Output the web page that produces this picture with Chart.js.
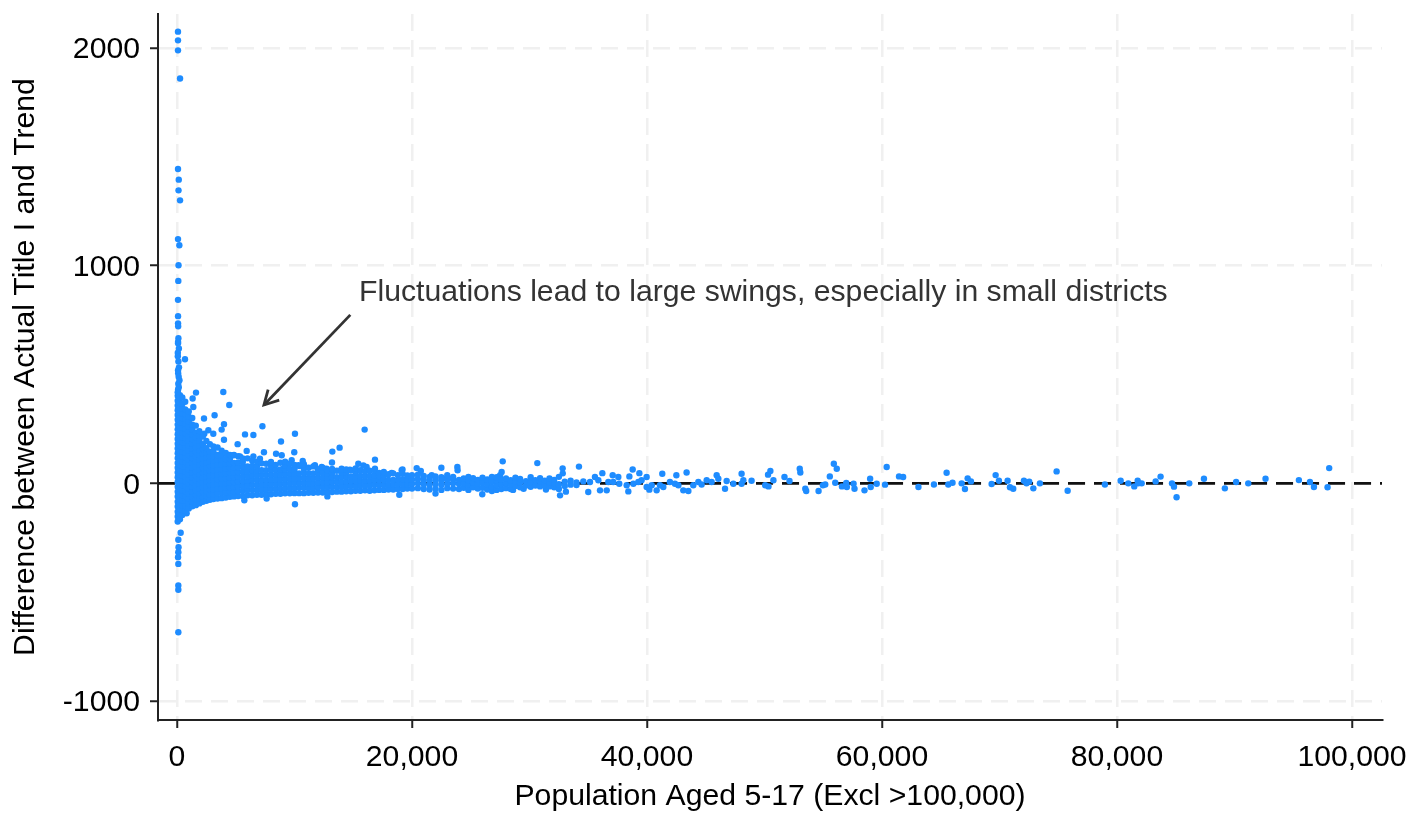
<!DOCTYPE html>
<html><head><meta charset="utf-8">
<style>html,body{margin:0;padding:0;background:#fff}canvas{display:block}</style>
<script src="https://cdn.jsdelivr.net/npm/chart.js@4/dist/chart.umd.js"></script>
</head><body><canvas id="c" width="1422" height="813"></canvas>
<script>
const xTicks=[0,20000,40000,60000,80000,100000];
const yTicks=[-1000,0,1000,2000];
const xTitle="Population Aged 5-17 (Excl >100,000)";
const yTitle="Difference between Actual Title I and Trend";
const noteText="Fluctuations lead to large swings, especially in small districts";
const noteAnchor=[15490,874];
const arrowFrom=[14750,774];
const arrowTo=[7400,360];
const zeroLine=[[-1617,0],[102553,0]];
// Thin spike at very small populations
const spike=[[85,2075],[85,2035],[85,1989],[260,1860],[85,1444],[150,1395],[130,1346],[260,1300],[85,1122],[200,1094],[130,1002],[110,930],[85,843],[90,768],[90,735],[100,722],[120,667],[90,650],[90,644],[160,620],[70,600],[70,584],[120,560],[680,570],[170,533],[90,520],[100,506],[140,490],[210,474],[110,458],[150,442],[90,430],[312,-227],[113,-259],[130,-293],[113,-316],[90,-339],[113,-370],[113,-469],[113,-489],[113,-684],[820,-137],[1670,-93]];
// Points standing clear of the main band
const outliers=[[1618,417],[1332,390],[3940,420],[4450,360],[1390,351],[2300,298],[3200,313],[4000,272],[3800,247],[2670,244],[2325,228],[3090,228],[5790,225],[6500,222],[7270,262],[10040,228],[8850,192],[5160,180],[4000,200],[15970,247],[13840,164],[13220,146],[13190,96],[16850,109],[7400,143],[9980,143],[8430,136],[8910,129],[5930,149],[10700,103],[15430,90],[15860,82],[14010,67],[20400,70],[22500,72],[19190,64],[20750,57],[16850,67],[5730,-78],[7630,-70],[10040,-96],[12800,-60],[18920,-52],[22000,-47],
[23860,75],[23880,60],[27720,101],[30664,93],[32820,69],[32830,46],[34210,77],[27630,52],[27500,38],[25980,-50],[32600,-55],[26800,-35],[28600,-30],[31400,-28],[29500,-25],[33100,-38]];
// Knobs along the upper edge of the band
const edgeBumps=[[4790,129],[5360,124],[6500,124],[7060,113],[8060,83],[9050,67],[9760,106],[10330,83],[11740,83],[12310,75],[12730,67],[14720,63],[16140,75],[17560,44],[18270,48],[19120,60],[21680,37],[22950,22]];
// Points along the right-hand tail
const tail=[[34580,9],[35000,-40],[35150,6],[35570,29],[35860,14],[36000,-32],[36200,47],[36570,-32],[36710,6],[37080,37],[37130,6],[37560,29],[37640,-2],[38270,-9],[38410,-37],[38500,32],[38780,64],[38840,-2],[39260,6],[39350,47],[39540,14],[39970,29],[39970,-17],[40200,-29],[40400,-9],[40820,-32],[41100,-9],[41300,44],[41390,-17],[41950,6],[42380,-2],[42500,37],[42670,-9],[43090,-32],[43370,50],[43520,-35],[43940,-9],[44370,6],[44650,-5],[45080,14],[45500,6],[45930,37],[46070,21],[46640,-25],[46780,11],[47350,-2],[48050,44],[48050,-2],[48200,14],[48900,12],[50060,-9],[50300,40],[50340,-14],[50500,57],[50760,14],[51700,29],[52130,11],[53000,67],[53050,50],[53470,-25],[53550,-35],[54600,-35],[54970,-9],[55170,-5],[55560,32],[55900,90],[56020,3],[56150,67],[56590,-14],[56960,2],[57010,-17],[57580,-2],[57660,-25],[58510,-32],[58990,21],[59040,-17],[59550,-2],[60260,-6],[60400,75],[61450,32],[61800,29],[63100,-17],[64420,-5],[65500,49],[65640,-5],[66000,3],[66780,0],[67060,-26],[67290,23],[67570,9],[69330,-3],[69670,38],[69950,12],[70690,12],[70890,-18],[71170,-25],[72080,12],[72300,0],[72530,8],[72880,-23],[73440,0],[74860,55],[75800,-34],[78970,-5],[80310,12],[80960,0],[81470,-14],[81760,12],[81810,0],[82100,0],[83290,9],[83710,31],[84680,0],[84850,-15],[85070,-64],[86150,0],[87400,21],[89180,-23],[90140,6],[91170,0],[92640,21],[95480,15],[96420,6],[96760,-17],[97920,-18],[98060,70]];
// Main dense band, one list per population column: [population, differences...]
const band=[
[60,-175,-152,-130,-106,-84,-60,-38,-16,6,28,50,72,94,116,138,160,182,204,226,248,270,292,314,336,358,380,402,418],
[250,-165,-140,-118,-96,-72,-50,-26,-4,18,40,62,84,106,128,150,172,194,216,238,260,282,304,326,348,370,392,405],
[450,-145,-122,-100,-78,-54,-32,-8,14,36,58,80,102,124,146,168,190,212,234,256,278,300,322,344,366,395],
[700,-125,-104,-80,-58,-36,-12,10,32,54,76,98,120,142,164,186,208,230,252,274,296,318,340,375],
[1000,-115,-92,-70,-46,-24,-2,20,42,64,86,108,130,152,174,196,218,240,262,284,306,330],
[1300,-105,-84,-60,-38,-16,6,28,50,72,94,116,138,160,182,204,226,248,270,300],
[1600,-100,-76,-54,-32,-10,12,34,56,78,100,122,144,166,188,210,232,265],
[1900,-92,-68,-46,-24,-2,20,42,64,86,108,130,152,174,196,218,240],
[2200,-85,-62,-40,-18,4,26,48,70,92,114,136,158,180,215],
[2500,-80,-58,-36,-14,8,30,52,74,96,118,140,162,195],
[2800,-75,-52,-30,-8,14,36,58,80,102,124,146,180],
[3100,-72,-50,-28,-6,16,38,60,82,104,126,148,170],
[3450,-70,-46,-24,-2,20,42,64,86,108,130,165],
[3800,-68,-44,-22,0,22,44,66,88,110,130,150],
[4150,-65,-42,-20,2,24,46,68,90,112,140],
[4500,-62,-40,-18,4,26,48,70,92,112,130],
[4850,-60,-38,-16,6,28,50,72,94,130],
[5200,-58,-36,-14,8,30,52,74,96,125],
[5600,-58,-34,-12,10,32,54,76,98,115],
[6000,-55,-32,-10,12,34,56,78,115],
[6400,-55,-30,-8,14,36,58,80,105],
[6800,-52,-30,-8,14,36,58,78,100],
[7200,-52,-28,-6,16,38,60,92],
[7600,-50,-28,-6,16,38,60,90],
[8000,-50,-26,-4,18,40,62,80,98],
[8400,-48,-26,-4,18,40,62,85],
[8800,-48,-24,-2,20,42,64,95],
[9200,-46,-24,-2,20,42,64,82,100],
[9600,-46,-22,0,22,44,66,90],
[10000,-45,-22,0,22,44,64,85],
[10400,-45,-20,2,24,46,80],
[10800,-45,-20,2,24,46,66,88],
[11200,-43,-20,2,24,46,72],
[11600,-43,-20,2,24,46,78],
[12000,-42,-18,4,26,48,65],
[12400,-42,-18,4,26,48,72],
[12800,-40,-18,4,26,44,60],
[13200,-40,-16,6,28,48,66],
[13600,-38,-16,6,28,58],
[14000,-38,-14,8,30,50,62],
[14400,-36,-14,8,30,50,64],
[14800,-36,-12,10,32,60],
[15200,-34,-12,10,32,50,68],
[15600,-34,-10,12,34,60],
[16000,-32,-10,12,34,55],
[16400,-34,-10,12,34,58],
[16800,-32,-8,14,36,60],
[17200,-30,-8,14,34,48],
[17600,-30,-8,14,34,52],
[18000,-28,-6,16,42],
[18400,-28,-6,16,46],
[18800,-26,-4,16,38],
[19200,-26,-4,18,44],
[19600,-24,-4,16,36],
[20000,-24,-2,18,38],
[20500,-22,0,20,40],
[21000,-26,-4,16,34],
[21500,-28,-6,14,30],
[22000,-24,-2,16,32],
[22500,-30,-6,14,28],
[23000,-22,-2,18,38],
[23500,-24,0,18,30],
[24000,-26,-2,16],
[24400,-20,2,22],
[24800,-30,-6,14,30],
[25200,-18,4,24],
[25600,-24,-2,16],
[26000,-20,4,26],
[26400,-28,-4,18],
[26800,-16,8,30],
[27200,-30,-8,14,28],
[27600,-26,-4,18],
[28000,-22,0,22],
[28400,-26,-4,14],
[28800,-12,8,26],
[29200,-18,4,20],
[29700,-10,10],
[30100,-16,6,28],
[30500,-10,14],
[30900,-14,8,24],
[31300,-8,12],
[31700,-14,6,22],
[32100,-18,2,16],
[32500,-26,-4,30],
[33000,-12,8],
[33500,-6,12],
[34000,-8,4]];
const pointSets=[spike,outliers,edgeBumps,tail];
const points=[];
pointSets.forEach(s=>s.forEach(p=>points.push({x:p[0],y:p[1]})));
band.forEach(col=>col.slice(1).forEach(v=>points.push({x:col[0],y:v})));

const annotate={id:'annotate',afterDatasetsDraw(ch){
  const g=ch.ctx,X=ch.scales.x,Y=ch.scales.y;
  g.save();
  const x1=X.getPixelForValue(arrowFrom[0]),y1=Y.getPixelForValue(arrowFrom[1]);
  const x2=X.getPixelForValue(arrowTo[0]),y2=Y.getPixelForValue(arrowTo[1]);
  g.strokeStyle='#333';g.lineWidth=2.8;g.lineCap='butt';
  g.beginPath();g.moveTo(x1,y1);g.lineTo(x2,y2);g.stroke();
  const a=Math.atan2(y1-y2,x1-x2),h=16,w=0.5;
  g.beginPath();
  g.moveTo(x2+h*Math.cos(a-w),y2+h*Math.sin(a-w));
  g.lineTo(x2,y2);
  g.lineTo(x2+h*Math.cos(a+w),y2+h*Math.sin(a+w));
  g.stroke();
  g.fillStyle='#333';g.font='30.2px "Liberation Sans"';g.textBaseline='middle';g.textAlign='left';
  g.fillText(noteText,X.getPixelForValue(noteAnchor[0]),Y.getPixelForValue(noteAnchor[1]));
  g.restore();
}};
const tickFont={family:'"Liberation Sans"',size:30.2};
const titleFont={family:'"Liberation Sans"',size:30.2};
function noPad(a){a.paddingTop=0;a.paddingBottom=0;a.paddingLeft=0;a.paddingRight=0;}
new Chart(document.getElementById('c'),{
  type:'scatter',
  data:{datasets:[
    {type:'scatter',data:points,backgroundColor:'#1E8CFF',borderWidth:0,pointRadius:3.2,pointHoverRadius:3.2,order:1},
    {type:'line',data:zeroLine.map(p=>({x:p[0],y:p[1]})),borderColor:'#111',borderWidth:2.6,borderDash:[17,9],pointRadius:0,fill:false,order:2}
  ]},
  plugins:[annotate],
  options:{
    responsive:false,animation:false,
    layout:{padding:{left:0,right:40,top:14,bottom:0}},
    plugins:{legend:{display:false},tooltip:{enabled:false}},
    scales:{
      x:{type:'linear',min:-1617,max:102553,
        afterBuildTicks(a){a.ticks=xTicks.map(v=>({value:v}));},
        afterFit(a){a.height=93;noPad(a);},
        border:{display:true,color:'#222',width:2,dash:[17,9]},
        grid:{color:'#f0f0f0',lineWidth:2.5,tickColor:'#222',tickWidth:2,tickLength:8,tickBorderDash:[]},
        ticks:{autoSkip:false,maxRotation:0,color:'#000',font:tickFont,padding:12,callback:v=>Number(v).toLocaleString('en-US')},
        title:{display:true,text:xTitle,color:'#000',font:titleFont,padding:{top:0,bottom:-2}}
      },
      y:{type:'linear',min:-1087,max:2156,
        afterBuildTicks(a){a.ticks=yTicks.map(v=>({value:v}));},
        afterFit(a){a.width=158;noPad(a);},
        border:{display:true,color:'#222',width:2,dash:[17,9]},
        grid:{color:'#f0f0f0',lineWidth:2.5,tickColor:'#222',tickWidth:2,tickLength:8,tickBorderDash:[]},
        ticks:{autoSkip:false,color:'#000',font:tickFont,padding:10,labelOffset:2,callback:v=>String(v)},
        title:{display:true,text:yTitle,color:'#000',font:titleFont,padding:{top:8,bottom:0}}
      }
    }
  }
});
</script></body></html>
